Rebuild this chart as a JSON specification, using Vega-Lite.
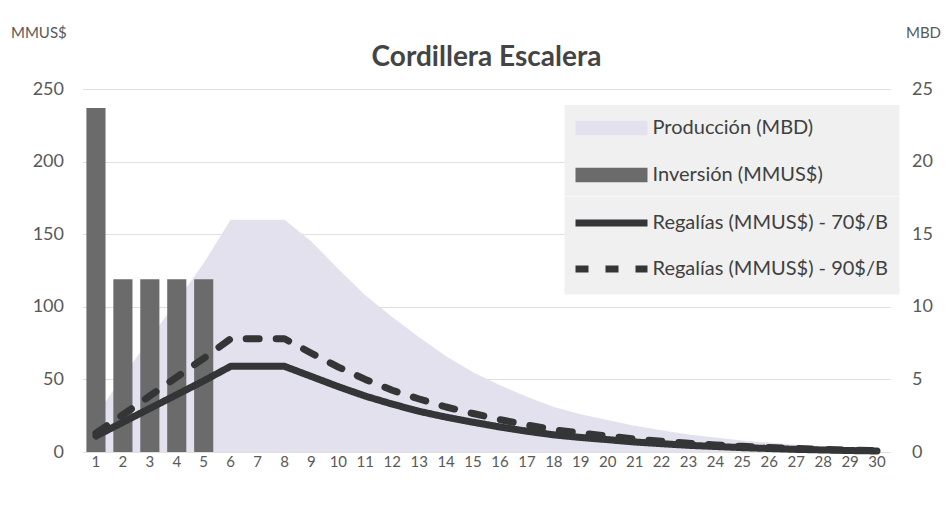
{
  "$schema": "https://vega.github.io/schema/vega-lite/v6.json",
  "autosize": "none",
  "width": 808,
  "height": 363,
  "padding": {"left": 82.5, "top": 89, "right": 61.5, "bottom": 56},
  "background": "white",
  "config": {
    "view": {"stroke": null},
    "font": "Lato"
  },
  "title": {"text": "Cordillera Escalera", "font": "Lato", "fontSize": 28, "fontWeight": "bold", "color": "#444444", "anchor": "middle", "offset": 0, "dy": 47},
  "data": {"values": [
    {"year": 1, "inv": 237, "prod": 2.5, "r70": 11, "r90": 13},
    {"year": 2, "inv": 119, "prod": 5.2, "r70": 20.5, "r90": 25.7},
    {"year": 3, "inv": 119, "prod": 7.8, "r70": 30, "r90": 38.6},
    {"year": 4, "inv": 119, "prod": 10.4, "r70": 39.5, "r90": 51.6},
    {"year": 5, "inv": 119, "prod": 13, "r70": 49, "r90": 64.5},
    {"year": 6, "inv": null, "prod": 16, "r70": 59, "r90": 78},
    {"year": 7, "inv": null, "prod": 16, "r70": 59, "r90": 78},
    {"year": 8, "inv": null, "prod": 16, "r70": 59, "r90": 78},
    {"year": 9, "inv": null, "prod": 14.5, "r70": 52, "r90": 68},
    {"year": 10, "inv": null, "prod": 12.6, "r70": 45, "r90": 58.5},
    {"year": 11, "inv": null, "prod": 10.8, "r70": 38.5, "r90": 50},
    {"year": 12, "inv": null, "prod": 9.3, "r70": 33, "r90": 42.5},
    {"year": 13, "inv": null, "prod": 7.9, "r70": 28, "r90": 36.5},
    {"year": 14, "inv": null, "prod": 6.6, "r70": 24, "r90": 31},
    {"year": 15, "inv": null, "prod": 5.5, "r70": 20.5, "r90": 26.5},
    {"year": 16, "inv": null, "prod": 4.6, "r70": 17.2, "r90": 22.3},
    {"year": 17, "inv": null, "prod": 3.8, "r70": 14.3, "r90": 18.6},
    {"year": 18, "inv": null, "prod": 3.1, "r70": 11.8, "r90": 15.3},
    {"year": 19, "inv": null, "prod": 2.6, "r70": 10, "r90": 13},
    {"year": 20, "inv": null, "prod": 2.2, "r70": 8.5, "r90": 11},
    {"year": 21, "inv": null, "prod": 1.8, "r70": 6.9, "r90": 9},
    {"year": 22, "inv": null, "prod": 1.5, "r70": 5.7, "r90": 7.4},
    {"year": 23, "inv": null, "prod": 1.2, "r70": 4.6, "r90": 6},
    {"year": 24, "inv": null, "prod": 1.0, "r70": 3.8, "r90": 4.9},
    {"year": 25, "inv": null, "prod": 0.8, "r70": 3.0, "r90": 3.9},
    {"year": 26, "inv": null, "prod": 0.65, "r70": 2.4, "r90": 3.1},
    {"year": 27, "inv": null, "prod": 0.5, "r70": 1.8, "r90": 2.4},
    {"year": 28, "inv": null, "prod": 0.38, "r70": 1.4, "r90": 1.8},
    {"year": 29, "inv": null, "prod": 0.28, "r70": 1.0, "r90": 1.3},
    {"year": 30, "inv": null, "prod": 0.2, "r70": 0.7, "r90": 0.9}
  ]},
  "encoding": {
    "x": {"field": "year", "type": "ordinal",
      "scale": {"paddingInner": 0.29, "paddingOuter": 0.145},
      "axis": {"title": null, "labelAngle": 0, "domain": false, "ticks": false, "labelFont": "Lato", "labelFontSize": 15, "labelColor": "#595959", "labelPadding": 2}}
  },
  "layer": [
    {
      "mark": {"type": "area", "opacity": 1},
      "encoding": {
        "y": {"field": "prod", "type": "quantitative", "scale": {"domain": [0, 25]},
          "axis": {"orient": "right", "title": "MBD", "titleAngle": 0, "titleAlign": "left", "titleBaseline": "middle", "titleX": 15, "titleY": -57, "titleFont": "Lato", "titleFontSize": 15, "titleFontWeight": "normal", "titleColor": "#595959", "values": [0, 5, 10, 15, 20, 25], "grid": false, "domain": false, "ticks": false, "labelPadding": 21, "labelFont": "Lato", "labelFontSize": 18, "labelColor": "#595959"}},
        "fill": {"datum": "Producción (MBD)", "type": "nominal",
          "scale": {"domain": ["Producción (MBD)", "Inversión (MMUS$)"], "range": ["#e3e1ee", "#6b6b6b"]},
          "legend": {"title": "\u00a0", "titleOrient": "right", "titleFontSize": 1, "titlePadding": 66, "orient": "none", "legendX": 482, "legendY": 16, "fillColor": "#f0f0f0", "padding": 11, "symbolType": "M-3,-0.6H3V0.6H-3Z", "symbolSize": 576, "symbolOffset": 24, "labelOffset": 29, "rowPadding": 25, "labelFont": "Lato", "labelFontSize": 20, "labelColor": "#404040", "labelLimit": 0, "symbolStrokeWidth": 0}
        }
      }
    },
    {
      "layer": [
        {
          "mark": {"type": "bar"},
          "encoding": {
            "y": {"field": "inv", "type": "quantitative", "scale": {"domain": [0, 250]},
              "axis": {"title": "MMUS$", "titleAngle": 0, "titleAlign": "left", "titleBaseline": "middle", "titleX": -72, "titleY": -57, "titleFont": "Lato", "titleFontSize": 15, "titleFontWeight": "normal", "titleColor": "#595959", "values": [0, 50, 100, 150, 200, 250], "grid": true, "gridColor": "#e0e0e0", "gridWidth": 1.2, "domain": false, "ticks": false, "labelPadding": 19, "labelFont": "Lato", "labelFontSize": 18, "labelColor": "#595959"}},
            "fill": {"datum": "Inversión (MMUS$)", "type": "nominal"}
          }
        },
        {
          "mark": {"type": "line", "strokeWidth": 7, "strokeCap": "round", "strokeJoin": "round"},
          "encoding": {
            "y": {"field": "r70", "type": "quantitative", "scale": {"domain": [0, 250]},
              "axis": {"title": "MMUS$", "titleAngle": 0, "titleAlign": "left", "titleBaseline": "middle", "titleX": -72, "titleY": -57, "titleFont": "Lato", "titleFontSize": 15, "titleFontWeight": "normal", "titleColor": "#595959", "values": [0, 50, 100, 150, 200, 250], "grid": true, "gridColor": "#e0e0e0", "gridWidth": 1.2, "domain": false, "ticks": false, "labelPadding": 19, "labelFont": "Lato", "labelFontSize": 18, "labelColor": "#595959"}},
            "stroke": {"datum": "Regalías (MMUS$) - 70$/B", "type": "nominal",
              "scale": {"domain": ["Regalías (MMUS$) - 70$/B", "Regalías (MMUS$) - 90$/B"], "range": ["#333537", "#333537"]},
              "legend": {"title": null, "orient": "none", "legendX": 482, "legendY": 107.5, "fillColor": "#f0f0f0", "padding": 11, "symbolType": "M-3,0H3", "symbolSize": 576, "symbolOffset": 20.5, "labelOffset": 25.5, "rowPadding": 16, "labelFont": "Lato", "labelFontSize": 20, "labelColor": "#404040", "labelLimit": 0, "symbolStrokeWidth": 7, "symbolFillColor": "transparent"}},
            "strokeDash": {"datum": "Regalías (MMUS$) - 70$/B", "type": "nominal",
              "scale": {"domain": ["Regalías (MMUS$) - 70$/B", "Regalías (MMUS$) - 90$/B"], "range": [[1, 0], [13, 17]]},
              "legend": {"title": null, "orient": "none", "legendX": 482, "legendY": 107.5, "fillColor": "#f0f0f0", "padding": 11, "symbolType": "M-3,0H3", "symbolSize": 576, "symbolOffset": 20.5, "labelOffset": 25.5, "rowPadding": 16, "labelFont": "Lato", "labelFontSize": 20, "labelColor": "#404040", "labelLimit": 0, "symbolStrokeWidth": 7, "symbolFillColor": "transparent"}}
          }
        },
        {
          "mark": {"type": "line", "strokeWidth": 7, "strokeCap": "round", "strokeJoin": "round"},
          "encoding": {
            "y": {"field": "r90", "type": "quantitative", "scale": {"domain": [0, 250]},
              "axis": {"title": "MMUS$", "titleAngle": 0, "titleAlign": "left", "titleBaseline": "middle", "titleX": -72, "titleY": -57, "titleFont": "Lato", "titleFontSize": 15, "titleFontWeight": "normal", "titleColor": "#595959", "values": [0, 50, 100, 150, 200, 250], "grid": true, "gridColor": "#e0e0e0", "gridWidth": 1.2, "domain": false, "ticks": false, "labelPadding": 19, "labelFont": "Lato", "labelFontSize": 18, "labelColor": "#595959"}},
            "stroke": {"datum": "Regalías (MMUS$) - 90$/B", "type": "nominal"},
            "strokeDash": {"datum": "Regalías (MMUS$) - 90$/B", "type": "nominal"}
          }
        }
      ]
    }
  ],
  "resolve": {"scale": {"y": "independent"}}
}
